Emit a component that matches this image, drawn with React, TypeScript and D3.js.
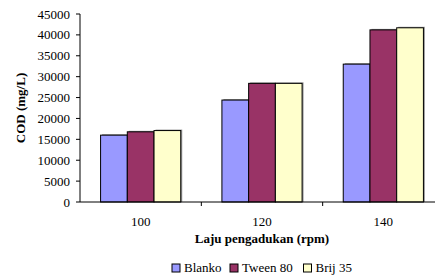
import React from "react";
import * as d3 from "d3";

const categories = ["100", "120", "140"];
const seriesNames = ["Blanko", "Tween 80", "Brij 35"];
const blanko = [16000, 24400, 33000];
const tween80 = [16800, 28400, 41200];
const brij35 = [17100, 28400, 41700];
const yTicks = [0, 5000, 10000, 15000, 20000, 25000, 30000, 35000, 40000, 45000];
const colors = ["#9999FF", "#993366", "#FFFFCC"];

export default function App() {
  const W = 435, H = 277;
  const left = 80, right = 444, top = 14, bottom = 202;
  const series = [blanko, tween80, brij35];
  const y = d3.scaleLinear().domain([0, 45000]).range([bottom, top]);
  const x0 = d3.scaleBand<string>().domain(categories).range([left, right]).padding(0);
  const x1 = d3.scaleBand<string>().domain(seriesNames).range([0, x0.bandwidth()]).paddingInner(0).paddingOuter(0.77);
  const font = "Liberation Serif";
  const legendX = [172, 230, 303.5];
  return (
    <svg width={W} height={H} style={{ position: "absolute", left: 0, top: 0, background: "#fff", fontFamily: font }}>
      {categories.map((c, i) =>
        seriesNames.map((s, j) => {
          const v = series[j][i];
          const bx = (x0(c) as number) + (x1(s) as number);
          const by = y(v);
          return (
            <g key={c + s}>
              <rect x={bx + 1.5} y={by - 1} width={x1.bandwidth()} height={bottom - by + 1} fill="#9a9a9a" />
              <rect x={bx} y={by} width={x1.bandwidth()} height={bottom - by} fill={colors[j]} stroke="#000" strokeWidth={1} />
            </g>
          );
        })
      )}
      <line x1={left} x2={left} y1={top} y2={bottom} stroke="#000" />
      <line x1={left} x2={right} y1={bottom} y2={bottom} stroke="#000" />
      {yTicks.map((t) => (
        <g key={t}>
          <line x1={left - 4} x2={left} y1={y(t)} y2={y(t)} stroke="#000" />
          <text x={70} y={y(t)} dy="0.35em" textAnchor="end" fontSize={13} style={{ fontFamily: font }}>{t}</text>
        </g>
      ))}
      {categories.map((c) => (
        <g key={c}>
          <line x1={(x0(c) as number) + x0.bandwidth()} x2={(x0(c) as number) + x0.bandwidth()} y1={bottom} y2={bottom + 4} stroke="#000" />
          <text x={(x0(c) as number) + x0.bandwidth() / 2} y={226} textAnchor="middle" fontSize={13} style={{ fontFamily: font }}>{c}</text>
        </g>
      ))}
      <text x={(left + right) / 2} y={243} textAnchor="middle" fontSize={13} fontWeight="bold" style={{ fontFamily: font }}>Laju pengadukan (rpm)</text>
      <text transform={`translate(25,${(top + bottom) / 2}) rotate(-90)`} textAnchor="middle" fontSize={13} fontWeight="bold" style={{ fontFamily: font }}>COD (mg/L)</text>
      {seriesNames.map((s, j) => (
        <g key={s}>
          <rect x={legendX[j]} y={264} width={8} height={8} fill={colors[j]} stroke="#000" />
          <text x={legendX[j] + 12} y={272} fontSize={13} style={{ fontFamily: font }}>{s}</text>
        </g>
      ))}
    </svg>
  );
}
